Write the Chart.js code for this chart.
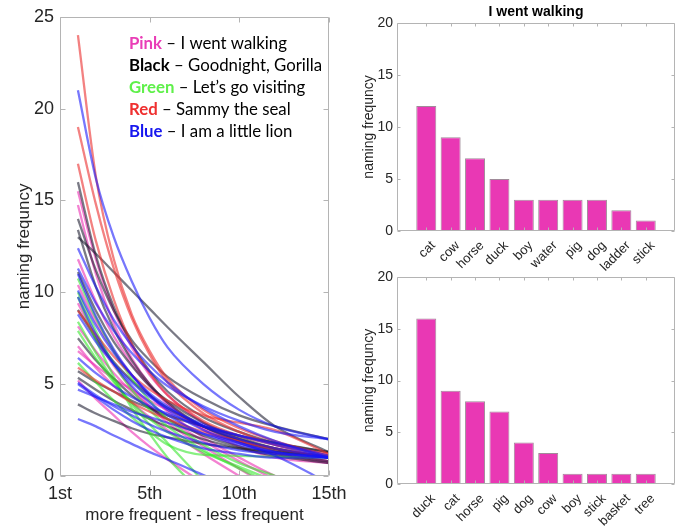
<!DOCTYPE html>
<html>
<head>
<meta charset="utf-8">
<script src="https://cdn.jsdelivr.net/npm/chart.js@4.4.1/dist/chart.umd.min.js"></script>
<style>
  html, body { margin: 0; padding: 0; background: #fff; }
  #wrap { position: relative; width: 685px; height: 527px; }
  #wrap canvas { position: absolute; left: 0; top: 0; }
</style>
</head>
<body>
<div id="wrap">
  <canvas id="curves" width="685" height="527"></canvas>
  <canvas id="walking" width="685" height="527"></canvas>
  <canvas id="second" width="685" height="527"></canvas>
</div>
<script>
// ---- rank positions at which each naming curve is sampled ----
const rankSteps = [1, 2, 3, 4, 5, 6, 8, 10, 12, 15];

// ---- naming frequency curves, one array per participant, grouped by book ----
const blueCurves = [
  [21, 16.2, 13.0, 10.6, 8.6, 7.0, 5.0, 3.6, 2.7, 2.0],
  [12.4, 10.3, 8.5, 7.1, 6.0, 5.1, 3.7, 2.7, 1.9, 1.0],
  [11.3, 9.4, 7.9, 6.7, 5.7, 4.9, 3.8, 3.0, 2.4, 2.0],
  [11.0, 8.7, 6.9, 5.5, 4.4, 3.6, 2.5, 1.8, 1.3, 1.0],
  [10.1, 8.2, 6.7, 5.5, 4.5, 3.8, 2.7, 2.0, 1.5, 1.0],
  [9.75, 7.7, 6.1, 4.9, 4.0, 3.3, 2.3, 1.7, 1.3, 1.0],
  [8.8, 7.3, 6.1, 5.1, 4.3, 3.7, 2.8, 2.2, 1.7, 1.0],
  [6.43, 5.6, 4.9, 4.3, 3.8, 3.4, 2.7, 2.2, 1.8, 1.1],
  [5.08, 4.4, 3.8, 3.3, 2.8, 2.4, 1.8, 1.4, 1.2, 1.0],
  [5.0, 4.3, 3.6, 3.0, 2.5, 2.1, 1.5, 1.2, 1.0, 1.0],
  [4.7, 4.3, 3.9, 3.5, 3.2, 2.9, 2.3, 1.8, 1.1, -0.4],
  [3.1, 2.7, 2.2, 1.75, 1.3, 0.9, 0.05, -0.8]
];
const redCurves = [
  [24, 16.3, 11.8, 8.8, 6.8, 5.3, 3.6, 2.6, 1.9, 1.1],
  [19, 14.8, 11.3, 8.6, 6.6, 5.1, 3.4, 2.4, 1.7, 1.0],
  [17, 12.8, 9.6, 7.2, 5.6, 4.4, 3.0, 2.2, 1.7, 1.2],
  [9.0, 7.7, 6.5, 5.5, 4.7, 4.1, 3.3, 2.9, 2.5, 1.2],
  [5.9, 5.2, 4.6, 4.0, 3.5, 3.1, 2.4, 1.9, 1.5, 1.0]
];
const greenCurves = [
  [10.75, 8.6, 6.8, 5.3, 4.1, 3.1, 1.7, 0.7, 0.0, -1.0],
  [9.75, 7.4, 5.4, 3.7, 2.3, 1.0, -1.0],
  [8.4, 6.7, 5.2, 3.9, 2.8, 1.8, -0.3],
  [7.9, 6.4, 5.1, 4.0, 3.1, 2.4, 1.3, 0.5, -0.3],
  [6.16, 5.1, 4.1, 3.2, 2.4, 1.7, 1.15, 1.1, 1.05, 1.0],
  [10.0, 7.9, 6.1, 4.7, 3.6, 2.7, 1.4, 0.4, -0.5]
];
const blackCurves = [
  [16, 12.0, 9.2, 7.2, 5.7, 4.6, 3.2, 2.4, 1.8, 1.3],
  [14, 11.2, 9.0, 7.4, 6.3, 5.4, 4.2, 3.3, 2.7, 2.0],
  [13.4, 10.3, 8.0, 6.3, 5.0, 4.0, 2.7, 1.9, 1.4, 1.0],
  [13, 12.1, 11.1, 10.1, 9.1, 8.1, 6.2, 4.3, 2.7, 1.3],
  [11.1, 9.0, 7.3, 6.0, 4.9, 4.1, 2.9, 2.1, 1.5, 1.0],
  [9.05, 7.5, 6.2, 5.2, 4.4, 3.7, 2.7, 2.0, 1.5, 1.0],
  [7.5, 6.3, 5.3, 4.4, 3.7, 3.1, 2.2, 1.6, 1.2, 0.8],
  [5.7, 5.1, 4.6, 4.1, 3.7, 3.3, 2.7, 2.2, 1.8, 1.3],
  [5.35, 4.7, 4.1, 3.6, 3.1, 2.7, 2.0, 1.5, 1.1, 0.7],
  [3.9, 3.4, 3.0, 2.6, 2.3, 2.1, 1.75, 1.5, 1.3, 1.1]
];
const pinkCurves = [
  [15.5, 11.8, 9.0, 7.0, 5.5, 4.4, 2.9, 2.0, 1.4, 0.8],
  [14.75, 11.0, 8.3, 6.4, 5.0, 4.0, 2.6, 1.8, 1.2, 0.7],
  [11.8, 9.5, 7.6, 6.1, 4.9, 3.9, 2.5, 1.6, 1.0, 0.7],
  [10.4, 8.4, 6.8, 5.5, 4.4, 3.5, 2.1, 1.0, 0.0, -1.0],
  [9.4, 7.5, 6.0, 4.8, 3.8, 2.9, 1.6, 0.4, -0.8],
  [8.15, 6.8, 5.6, 4.6, 3.8, 3.1, 1.9, 0.8, -0.2],
  [7.06, 5.9, 4.9, 4.0, 3.2, 2.5, 1.2, 0.0, -1.2],
  [6.8, 6.0, 5.3, 4.7, 4.1, 3.6, 2.7, 1.9, 1.3, 0.8],
  [5.2, 4.2, 3.3, 2.4, 1.6, 0.9, -0.4]
];

// ---- rank axis ticks ----
const rankTickValues = [0, 5, 10, 15];
const rankTickLabels = ['1st', '5th', '10th', '15th'];

// ---- key text ----
const keyWords = ['Pink', 'Black', 'Green', 'Red', 'Blue'];
const keyBooks = ['I went walking', 'Goodnight, Gorilla', 'Let\u2019s go visiting', 'Sammy the seal', 'I am a little lion'];
const keyColors = ['#e93db6', '#000000', '#5ff04a', '#ef3030', '#1717ef'];

// ---- bar panels ----
const walkingWords = ['cat', 'cow', 'horse', 'duck', 'boy', 'water', 'pig', 'dog', 'ladder', 'stick'];
const walkingCounts = [12, 9, 7, 5, 3, 3, 3, 3, 2, 1];
const secondWords = ['duck', 'cat', 'horse', 'pig', 'dog', 'cow', 'boy', 'stick', 'basket', 'tree'];
const secondCounts = [16, 9, 8, 7, 4, 3, 1, 1, 1, 1];

const AXIS_TEXT = '#262626';
const FRAME = '#b4b4b4';
const FONT = '"Liberation Sans", Arial, Helvetica, sans-serif';
const KEY_FONT = 'Lato, "Open Sans", sans-serif';

// Box around the plot area with short inward tick marks on every side
const framePlugin = {
  id: 'frame',
  afterDatasetsDraw(chart, args, opts) {
    const { ctx, chartArea: a } = chart;
    const len = opts.tickLen || 4;
    const L = Math.round(a.left) + 0.5, R = Math.round(a.right) - 0.5;
    const T = Math.round(a.top) + 0.5, B = Math.round(a.bottom) - 0.5;
    ctx.save();
    ctx.strokeStyle = FRAME;
    ctx.lineWidth = 1;
    ctx.beginPath();
    ctx.rect(L, T, R - L, B - T);
    const xs = chart.scales.x, ys = chart.scales.y;
    xs.ticks.forEach(t => {
      const px = Math.round(xs.getPixelForValue(t.value)) + 0.5;
      ctx.moveTo(px, B); ctx.lineTo(px, B - len);
      ctx.moveTo(px, T); ctx.lineTo(px, T + len);
    });
    ys.ticks.forEach(t => {
      const py = Math.round(ys.getPixelForValue(t.value)) + 0.5;
      ctx.moveTo(L, py); ctx.lineTo(L + len, py);
      ctx.moveTo(R, py); ctx.lineTo(R - len, py);
    });
    ctx.stroke();
    ctx.restore();
  }
};

// Colour key written inside the curve panel
const keyPlugin = {
  id: 'bookKey',
  afterDraw(chart) {
    const { ctx } = chart;
    ctx.save();
    ctx.textBaseline = 'middle';
    ctx.textAlign = 'left';
    keyWords.forEach((w, i) => {
      const y = 44 + i * 22;
      ctx.font = 'bold 16.8px ' + KEY_FONT;
      ctx.fillStyle = keyColors[i];
      ctx.fillText(w, 129, y);
      const wW = ctx.measureText(w).width;
      ctx.font = '16.8px ' + KEY_FONT;
      ctx.fillStyle = '#000';
      ctx.fillText(' \u2013 ' + keyBooks[i], 129 + wW, y);
    });
    ctx.restore();
  }
};

function curveSets(curves, color) {
  return curves.map(vals => ({
    data: vals.map((v, i) => ({ x: rankSteps[i], y: v })),
    borderColor: color,
    borderWidth: 2.3,
    pointRadius: 0,
    fill: false,
    cubicInterpolationMode: 'monotone'
  }));
}

const curveDatasets = [].concat(
  curveSets(blueCurves, 'rgba(20,20,250,0.58)'),
  curveSets(redCurves, 'rgba(235,45,45,0.6)'),
  curveSets(greenCurves, 'rgba(50,230,40,0.58)'),
  curveSets(blackCurves, 'rgba(25,25,45,0.58)'),
  curveSets(pinkCurves, 'rgba(235,40,175,0.58)')
);

new Chart(document.getElementById('curves'), {
  type: 'line',
  data: { datasets: curveDatasets },
  options: {
    responsive: false,
    animation: false,
    devicePixelRatio: 1,
    layout: { padding: { left: 0, right: 356, top: 13, bottom: 0 } },
    plugins: { legend: { display: false }, tooltip: { enabled: false }, frame: { tickLen: 5 } },
    scales: {
      x: {
        type: 'linear', min: 0, max: 15,
        grid: { display: false, drawTicks: false },
        border: { display: false },
        afterBuildTicks: s => { s.ticks = rankTickValues.map(v => ({ value: v })); },
        afterFit: s => { s.height = 51; },
        ticks: {
          color: AXIS_TEXT, padding: 7, maxRotation: 0,
          font: { family: FONT, size: 18 },
          callback: (v, i) => rankTickLabels[i]
        },
        title: {
          display: true, text: 'more frequent - less frequent', color: AXIS_TEXT,
          font: { family: FONT, size: 17 }, padding: { top: 0, bottom: 1 }
        }
      },
      y: {
        min: 0, max: 25,
        grid: { display: false, drawTicks: false },
        border: { display: false },
        afterFit: s => { s.width = 60; },
        ticks: { stepSize: 5, color: AXIS_TEXT, padding: 6, font: { family: FONT, size: 18 } },
        title: {
          display: true, text: 'naming frequncy', color: AXIS_TEXT,
          font: { family: FONT, size: 17 }, padding: { top: 14, bottom: 0 }
        }
      }
    }
  },
  plugins: [framePlugin, keyPlugin]
});

function barPanel(id, words, counts, title, pad, axisH) {
  return new Chart(document.getElementById(id), {
    type: 'bar',
    data: {
      datasets: [{
        data: counts.map((c, i) => ({ x: i + 1, y: c })),
        backgroundColor: '#e938b4',
        borderColor: 'rgba(120,90,110,0.7)',
        borderWidth: 1,
        barPercentage: 0.82,
        categoryPercentage: 1
      }]
    },
    options: {
      responsive: false,
      animation: false,
      devicePixelRatio: 1,
      layout: { padding: pad },
      plugins: {
        legend: { display: false },
        tooltip: { enabled: false },
        frame: { tickLen: 3 },
        title: {
          display: !!title, text: title, fullSize: false, color: '#000',
          font: { family: FONT, size: 14, weight: 'bold' },
          padding: { top: 4, bottom: 2 }
        }
      },
      scales: {
        x: {
          type: 'linear', min: -0.2, max: 11.2, offset: false,
          grid: { display: false, drawTicks: false },
          border: { display: false },
          afterBuildTicks: s => { s.ticks = words.map((w, i) => ({ value: i + 1 })); },
          afterFit: s => { s.height = axisH; },
          ticks: {
            color: AXIS_TEXT, padding: 7, labelOffset: 7,
            minRotation: 45, maxRotation: 45, autoSkip: false,
            font: { family: FONT, size: 13 },
            callback: (v, i) => words[i]
          }
        },
        y: {
          min: 0, max: 20,
          grid: { display: false, drawTicks: false },
          border: { display: false },
          afterFit: s => { s.width = 57; },
          ticks: { stepSize: 5, color: AXIS_TEXT, padding: 4, font: { family: FONT, size: 14 } },
          title: {
            display: true, text: 'naming frequncy', color: AXIS_TEXT,
            font: { family: FONT, size: 14 }, padding: { top: 21, bottom: 0 }
          }
        }
      }
    }
    ,
    plugins: [framePlugin]
  });
}

barPanel('walking', walkingWords, walkingCounts, 'I went walking',
  { left: 340, right: 10, top: 0, bottom: 246 }, 50);
barPanel('second', secondWords, secondCounts, '',
  { left: 340, right: 10, top: 277, bottom: 0 }, 43);
</script>
</body>
</html>
